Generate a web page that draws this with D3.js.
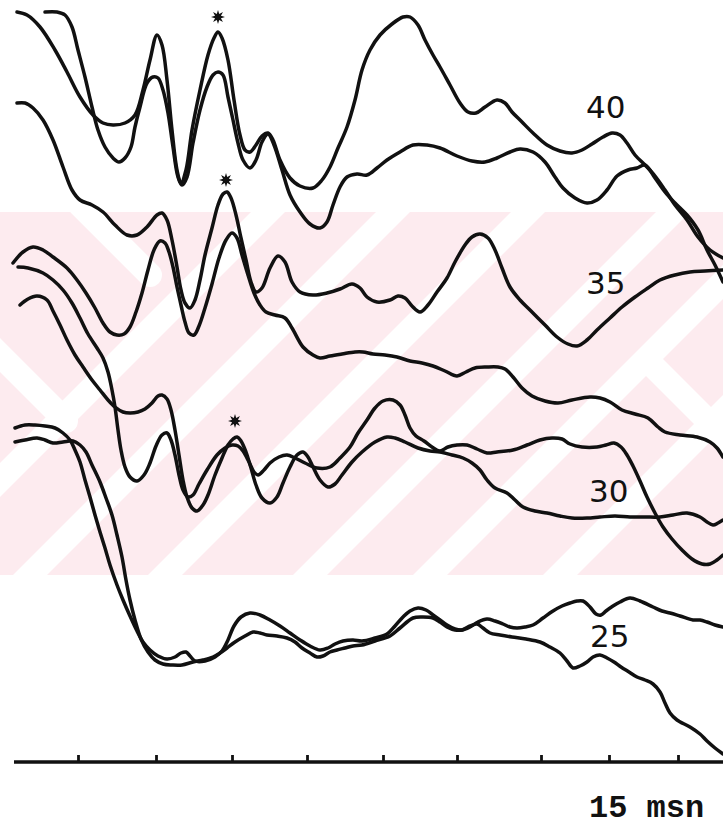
<!DOCTYPE html>
<html lang="en">
<head>
<meta charset="UTF-8">
<title>Traces</title>
<script src="https://cdn.jsdelivr.net/npm/d3@7"></script>
<style>
  body { margin: 0; background: #fff; }
  svg { display: block; }
</style>
</head>
<body>
<svg width="723" height="829"></svg>
<script>
// time in ms, amplitude in arbitrary units (0 = time axis)
var levels = ["40", "35", "30", "25"];

var trace40a = [[0.28,75.0],[0.48,74.7],[0.74,73.5],[1.04,71.2],[1.28,69.0],[1.54,66.5],[1.80,64.7],[2.00,63.9],[2.20,63.7],[2.44,63.9],[2.64,64.7],[2.80,67.2],[2.94,70.2],[3.08,72.7],[3.18,71.7],[3.28,68.2],[3.38,63.2],[3.48,59.2],[3.56,57.9],[3.66,59.2],[3.78,63.2],[3.94,67.2],[4.10,70.7],[4.22,72.4],[4.30,73.0],[4.38,72.4],[4.50,70.2],[4.62,66.2],[4.74,62.7],[4.84,61.2],[4.94,61.0],[5.06,61.7],[5.18,62.6],[5.30,62.9],[5.40,62.2],[5.54,60.2],[5.74,58.4],[5.94,57.6],[6.20,57.4],[6.38,58.2],[6.54,59.5],[6.70,61.4],[6.88,63.5],[7.04,66.2],[7.18,69.2],[7.34,71.2],[7.54,72.7],[7.78,73.8],[8.00,74.5],[8.14,74.5],[8.30,73.7],[8.44,72.2],[8.60,70.7],[8.74,69.5],[8.94,67.7],[9.14,65.9],[9.30,65.0],[9.46,64.9],[9.64,65.5],[9.88,66.2],[10.04,65.9],[10.18,65.0],[10.38,64.0],[10.60,62.9],[10.88,61.7],[11.14,61.1],[11.38,60.9],[11.58,61.2],[11.78,61.8],[12.00,62.5],[12.18,62.9],[12.34,62.7],[12.48,61.9],[12.64,60.7],[12.84,59.7],[13.04,58.6],[13.24,57.2],[13.44,55.7],[13.68,54.2],[13.90,52.5],[14.14,51.2],[14.40,50.4]];
var trace40b = [[0.84,75.0],[1.08,75.0],[1.24,74.7],[1.38,73.5],[1.50,71.2],[1.64,68.5],[1.78,65.5],[1.90,63.2],[2.04,61.5],[2.20,60.4],[2.32,60.0],[2.44,60.4],[2.56,61.5],[2.64,63.5],[2.74,65.5],[2.88,67.9],[3.00,68.5],[3.10,68.4],[3.20,67.2],[3.30,64.9],[3.40,61.5],[3.50,58.5],[3.58,57.7],[3.68,58.5],[3.80,61.9],[3.94,65.2],[4.08,67.5],[4.20,68.7],[4.30,69.0],[4.40,68.7],[4.50,66.5],[4.60,64.2],[4.70,61.9],[4.80,60.2],[4.94,59.4],[5.06,60.2],[5.18,62.0],[5.30,62.8],[5.42,61.7],[5.58,59.2],[5.74,56.7],[5.94,55.0],[6.14,53.8],[6.34,53.4],[6.48,54.0],[6.60,55.7],[6.74,57.5],[6.88,58.5],[7.08,58.8],[7.28,58.7],[7.48,59.4],[7.68,60.2],[7.94,61.0],[8.20,61.7],[8.48,61.7],[8.74,61.4],[9.08,60.6],[9.38,60.1],[9.64,60.0],[9.88,60.4],[10.14,61.0],[10.34,61.3],[10.60,61.0],[10.84,60.0],[11.04,58.5],[11.20,57.4],[11.44,56.4],[11.68,55.9],[11.88,56.2],[12.08,57.2],[12.28,58.6],[12.50,59.2],[12.68,59.4],[12.84,59.7],[13.04,58.4],[13.24,57.0],[13.44,55.9],[13.68,54.7],[13.90,53.2],[14.08,51.2],[14.24,49.7],[14.40,48.0]];

var trace35a = [[0.28,65.9],[0.44,65.9],[0.60,65.4],[0.80,64.2],[1.00,62.2],[1.20,59.5],[1.38,57.2],[1.54,56.2],[1.78,55.7],[2.00,55.0],[2.24,53.7],[2.48,52.7],[2.68,52.7],[2.88,53.5],[3.08,54.7],[3.18,54.9],[3.28,54.2],[3.38,52.2],[3.48,49.5],[3.56,47.2],[3.64,45.9],[3.74,45.4],[3.84,46.2],[3.94,48.2],[4.04,50.7],[4.18,53.4],[4.30,55.7],[4.40,56.8],[4.48,57.0],[4.56,56.4],[4.66,54.7],[4.76,52.4],[4.86,50.2],[4.96,48.0],[5.06,47.0],[5.18,47.4],[5.34,49.4],[5.50,50.6],[5.64,50.0],[5.78,48.0],[5.94,47.0],[6.20,46.7],[6.48,46.9],[6.74,47.3],[6.98,47.8],[7.14,47.4],[7.28,46.5],[7.48,46.0],[7.74,46.2],[7.90,46.6],[8.04,46.4],[8.18,45.6],[8.34,45.0],[8.50,45.7],[8.68,47.0],[8.88,48.4],[9.04,50.0],[9.24,51.7],[9.38,52.5],[9.54,52.8],[9.70,52.4],[9.84,51.2],[9.98,49.4],[10.14,47.5],[10.34,46.2],[10.54,45.2],[10.84,43.7],[11.08,42.5],[11.30,41.8],[11.48,41.6],[11.68,42.2],[11.88,43.2],[12.14,44.4],[12.38,45.5],[12.64,46.5],[12.90,47.4],[13.14,48.2],[13.44,48.7],[13.74,49.0],[14.04,49.1],[14.40,49.2]];
var trace35b = [[0.20,49.9],[0.40,51.0],[0.60,51.5],[0.80,51.2],[1.00,50.5],[1.28,49.4],[1.48,48.2],[1.66,46.9],[1.84,45.4],[2.00,43.9],[2.14,43.0],[2.28,42.7],[2.42,42.8],[2.54,43.5],[2.66,45.0],[2.78,46.9],[2.90,49.2],[3.02,51.2],[3.14,52.1],[3.24,51.9],[3.32,51.0],[3.40,49.5],[3.48,47.5],[3.56,45.7],[3.64,44.0],[3.72,42.9],[3.82,42.7],[3.92,43.6],[4.04,45.4],[4.18,47.8],[4.32,50.4],[4.46,52.2],[4.58,52.9],[4.68,52.4],[4.78,50.7],[4.90,48.7],[5.02,46.9],[5.14,45.7],[5.26,45.0],[5.44,44.7],[5.64,44.4],[5.78,43.4],[6.00,41.5],[6.20,40.7],[6.34,40.4],[6.54,40.6],[6.78,40.8],[7.04,41.0],[7.20,41.0],[7.40,40.8],[7.64,40.7],[7.88,40.5],[8.14,40.1],[8.38,39.9],[8.60,39.6],[8.84,39.1],[9.08,38.6],[9.26,39.0],[9.44,39.4],[9.68,39.5],[9.90,39.5],[10.04,39.3],[10.20,38.5],[10.38,37.4],[10.58,36.6],[10.84,36.1],[11.10,35.9],[11.38,36.2],[11.74,36.5],[11.94,36.4],[12.14,36.0],[12.38,35.2],[12.64,34.8],[12.90,34.4],[13.10,33.5],[13.24,33.0],[13.54,32.7],[13.88,32.5],[14.14,32.0],[14.28,31.4],[14.40,30.5]];

var trace30a = [[0.34,45.7],[0.50,46.3],[0.68,46.6],[0.88,46.2],[1.00,45.1],[1.14,43.7],[1.28,42.2],[1.44,40.7],[1.60,39.5],[1.78,38.2],[1.94,37.2],[2.10,36.2],[2.24,35.5],[2.40,35.0],[2.54,34.9],[2.70,35.0],[2.84,35.3],[2.98,35.9],[3.10,36.6],[3.18,36.7],[3.28,36.3],[3.36,35.2],[3.44,33.2],[3.52,30.7],[3.60,28.2],[3.68,26.5],[3.78,25.4],[3.88,25.1],[4.00,25.7],[4.10,26.7],[4.24,28.7],[4.38,30.4],[4.50,31.7],[4.60,32.3],[4.68,32.5],[4.76,32.1],[4.86,31.0],[4.96,29.4],[5.06,27.7],[5.18,26.4],[5.34,25.9],[5.48,26.5],[5.60,27.9],[5.74,29.5],[5.88,30.7],[6.00,31.0],[6.10,30.5],[6.20,29.5],[6.34,28.2],[6.50,27.5],[6.64,27.8],[6.78,28.7],[6.98,30.0],[7.18,31.0],[7.44,32.0],[7.68,32.5],[7.84,32.4],[8.04,32.0],[8.30,31.4],[8.54,31.1],[8.74,31.0],[8.98,30.7],[9.20,30.4],[9.38,29.9],[9.54,29.2],[9.68,28.2],[9.84,27.4],[10.08,26.9],[10.24,26.2],[10.40,25.5],[10.64,25.1],[10.88,24.9],[11.14,24.6],[11.38,24.4],[11.68,24.4],[11.94,24.5],[12.24,24.6],[12.54,24.5],[12.84,24.5],[13.14,24.5],[13.40,24.7],[13.68,24.9],[13.94,24.5],[14.08,24.0],[14.20,23.7],[14.30,23.9],[14.40,24.2]];
var trace30b = [[0.30,49.5],[0.50,49.4],[0.80,48.9],[1.00,48.2],[1.20,47.2],[1.38,45.9],[1.54,44.4],[1.70,42.8],[1.88,41.4],[2.00,40.4],[2.10,39.0],[2.18,37.2],[2.24,35.5],[2.30,33.2],[2.36,31.2],[2.44,29.5],[2.54,28.5],[2.68,28.1],[2.82,28.7],[2.94,29.9],[3.06,31.6],[3.18,32.7],[3.28,32.9],[3.36,32.2],[3.44,30.7],[3.52,28.7],[3.60,27.2],[3.70,26.5],[3.80,26.7],[3.92,27.8],[4.08,29.2],[4.28,30.7],[4.44,31.4],[4.58,31.7],[4.70,31.6],[4.80,31.1],[4.92,30.0],[5.02,29.0],[5.10,28.7],[5.22,29.2],[5.34,29.9],[5.52,30.5],[5.68,30.7],[5.84,30.4],[6.04,29.9],[6.28,29.4],[6.54,29.5],[6.74,30.4],[6.94,31.5],[7.10,32.9],[7.28,34.2],[7.44,35.4],[7.60,36.1],[7.80,36.2],[7.94,35.7],[8.04,34.7],[8.14,33.4],[8.26,32.6],[8.42,32.1],[8.58,31.5],[8.74,31.1],[8.90,31.5],[9.08,31.7],[9.28,31.7],[9.48,31.3],[9.68,30.9],[9.88,31.0],[10.20,31.2],[10.48,31.7],[10.74,32.2],[10.98,32.4],[11.18,32.3],[11.34,31.8],[11.58,31.5],[11.88,31.5],[12.06,31.7],[12.22,31.9],[12.36,31.5],[12.48,30.7],[12.60,29.6],[12.74,28.1],[12.88,26.5],[13.04,24.9],[13.20,23.5],[13.38,22.3],[13.58,21.2],[13.78,20.3],[13.98,19.8],[14.14,19.8],[14.28,20.2],[14.40,20.7]];

var trace25a = [[0.24,33.4],[0.44,33.7],[0.64,33.7],[0.84,33.6],[1.04,33.4],[1.20,32.9],[1.34,32.2],[1.44,31.2],[1.54,30.0],[1.64,28.2],[1.74,26.5],[1.84,24.7],[1.94,23.0],[2.04,21.4],[2.14,19.7],[2.28,17.7],[2.40,16.2],[2.54,14.6],[2.68,13.1],[2.80,12.0],[2.94,11.2],[3.10,10.6],[3.28,10.3],[3.44,10.5],[3.56,10.9],[3.66,11.0],[3.74,10.6],[3.84,10.1],[4.04,10.1],[4.24,10.5],[4.38,11.1],[4.50,12.2],[4.62,13.6],[4.76,14.5],[4.94,14.9],[5.14,14.7],[5.34,14.2],[5.54,13.6],[5.74,12.9],[5.94,12.2],[6.14,11.6],[6.34,11.2],[6.50,11.4],[6.64,11.8],[6.80,12.1],[7.00,12.2],[7.18,12.1],[7.44,12.4],[7.68,12.8],[7.84,13.6],[8.00,14.5],[8.14,15.1],[8.30,15.4],[8.46,15.2],[8.60,14.7],[8.74,14.2],[8.88,13.7],[9.04,13.3],[9.18,13.2],[9.34,13.5],[9.50,14.0],[9.68,14.3],[9.84,14.1],[10.00,13.8],[10.14,13.5],[10.28,13.4],[10.44,13.5],[10.60,13.7],[10.80,14.4],[11.00,15.1],[11.18,15.6],[11.34,15.9],[11.48,16.1],[11.60,16.1],[11.74,15.5],[11.86,14.8],[11.96,14.7],[12.06,15.1],[12.20,15.6],[12.34,16.0],[12.54,16.4],[12.74,16.1],[13.00,15.5],[13.18,15.1],[13.34,14.9],[13.54,14.6],[13.80,14.2],[13.94,14.2],[14.08,14.0],[14.24,13.7],[14.40,13.5]];
var trace25b = [[0.24,32.0],[0.44,32.2],[0.68,32.4],[0.84,32.2],[1.00,31.9],[1.20,32.0],[1.40,32.1],[1.54,31.7],[1.66,31.0],[1.78,29.7],[1.94,28.0],[2.06,26.4],[2.18,24.7],[2.28,22.7],[2.38,20.5],[2.46,18.2],[2.54,16.2],[2.64,14.2],[2.76,12.3],[2.90,11.0],[3.04,10.2],[3.20,9.8],[3.38,9.7],[3.58,9.7],[3.80,10.0],[4.00,10.2],[4.20,10.5],[4.34,10.9],[4.48,11.4],[4.64,12.0],[4.84,12.6],[5.00,13.0],[5.14,12.9],[5.28,12.7],[5.48,12.6],[5.68,12.4],[5.84,12.0],[5.98,11.4],[6.14,10.9],[6.28,10.5],[6.40,10.6],[6.54,11.0],[6.68,11.2],[6.84,11.4],[7.00,11.6],[7.18,11.7],[7.44,12.1],[7.74,12.6],[7.94,13.4],[8.20,14.4],[8.40,14.5],[8.60,14.4],[8.74,14.0],[8.88,13.5],[9.04,13.2],[9.18,13.2],[9.34,13.6],[9.48,13.8],[9.60,13.4],[9.74,12.9],[9.94,12.7],[10.18,12.5],[10.46,12.3],[10.74,12.0],[10.94,11.5],[11.14,10.9],[11.28,10.1],[11.40,9.4],[11.54,9.6],[11.68,10.0],[11.80,10.5],[11.94,10.7],[12.08,10.4],[12.22,10.0],[12.36,9.5],[12.52,9.0],[12.68,8.5],[12.84,8.2],[13.00,7.8],[13.14,7.0],[13.24,5.9],[13.34,4.9],[13.48,4.2],[13.74,3.5],[13.94,2.8],[14.08,2.1],[14.24,1.4],[14.40,0.8]];

// peaks marked with an asterisk
var starMarks = [[4.30, 74.5], [4.46, 58.2], [4.64, 34.1]];
// hand-drawn tick positions (ms)
var tickMs = [1.5, 3.06, 4.58, 6.08, 7.6, 9.08, 10.76, 12.12, 13.5];
var axisLabel = "15 msn";

var traces = [trace40a, trace40b, trace35a, trace35b, trace30a, trace30b, trace25a, trace25b];

var svg = d3.select('svg');
var x = d3.scaleLinear().domain([0, 15]).range([3, 753]);
var y = d3.scaleLinear().domain([0, 76.2]).range([762, 0]);

// faint pink watermark band behind the traces
var band = svg.append('g');
band.append('clipPath').attr('id', 'bandclip')
    .append('rect').attr('x', 0).attr('y', 212).attr('width', 723).attr('height', 363);
var bg = band.append('g').attr('clip-path', 'url(#bandclip)');
bg.append('rect').attr('x', 0).attr('y', 212).attr('width', 723).attr('height', 363).attr('fill', '#fdebef');
// "/" gaps across the band
[480, 605, 740, 885, 1005, 1135].forEach(function (c) {
    bg.append('line').attr('x1', c - 700).attr('y1', 700).attr('x2', c - 100).attr('y2', 100)
        .attr('stroke', '#fff').attr('stroke-width', 24);
});
// "\" gaps near the two ends, as segments [x1, y1, x2, y2]
[[80, 205, 150, 275], [-10, 345, 66, 421], [647, 360, 735, 448]].forEach(function (s) {
    bg.append('line').attr('x1', s[0]).attr('y1', s[1]).attr('x2', s[2]).attr('y2', s[3])
        .attr('stroke', '#fff').attr('stroke-width', 24).attr('stroke-linecap', 'round');
});

var line = d3.line()
    .x(function (d) { return x(d[0]); })
    .y(function (d) { return y(d[1]); })
    .curve(d3.curveCatmullRom.alpha(0.5));

svg.append('g').selectAll('path')
    .data(traces)
    .enter()
    .append('path')
    .attr('d', line)
    .attr('fill', 'none')
    .attr('stroke', '#111')
    .attr('stroke-width', 3.5)
    .attr('stroke-linejoin', 'round')
    .attr('stroke-linecap', 'round');

// asterisks
var star = d3.lineRadial()
    .angle(function (d, i) { return i * Math.PI / 8; })
    .radius(function (d, i) { return i % 2 ? 3.2 : 7; })
    .curve(d3.curveLinearClosed);
svg.append('g').selectAll('path')
    .data(starMarks)
    .enter()
    .append('path')
    .attr('transform', function (d) { return 'translate(' + x(d[0]) + ',' + y(d[1]) + ')'; })
    .attr('d', star(d3.range(16)))
    .attr('fill', '#111');

// level labels
var labelPos = [[11.66, 64.4], [11.66, 46.8], [11.72, 26.0], [11.74, 11.5]];
svg.append('g').selectAll('text')
    .data(levels)
    .enter()
    .append('text')
    .attr('x', function (d, i) { return x(labelPos[i][0]); })
    .attr('y', function (d, i) { return y(labelPos[i][1]); })
    .attr('font-family', 'DejaVu Sans, sans-serif')
    .attr('font-size', 31)
    .attr('fill', '#111')
    .text(function (d) { return d; });

// time axis, ticks pointing up
var axis = d3.axisTop(x).tickValues(tickMs).tickSize(7).tickFormat('').tickSizeOuter(0);
var ax = svg.append('g').attr('transform', 'translate(0,' + y(0) + ')').call(axis);
ax.select('.domain').remove();
ax.selectAll('.tick line').attr('stroke', '#111').attr('stroke-width', 2.8);
ax.append('line')
    .attr('x1', x(0.22)).attr('x2', x(15))
    .attr('stroke', '#111').attr('stroke-width', 3.4);

svg.append('text')
    .attr('x', x(11.72)).attr('y', y(0) + 55)
    .attr('font-family', 'Liberation Mono, monospace')
    .attr('font-weight', 'bold')
    .attr('font-size', 32)
    .attr('fill', '#111')
    .text(axisLabel);
</script>
</body>
</html>
